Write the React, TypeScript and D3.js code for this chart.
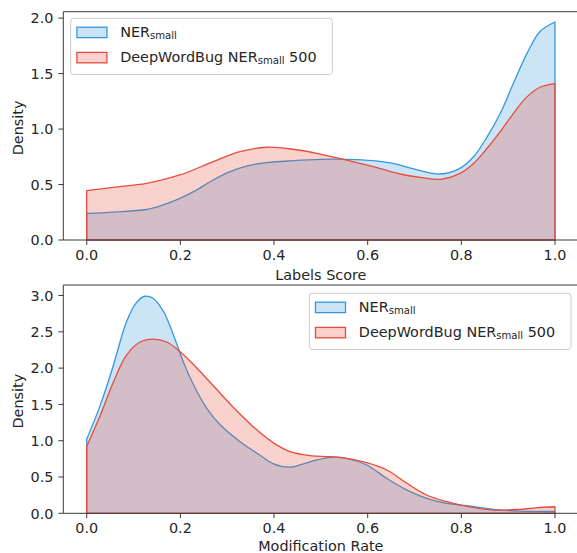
import React from "react";
import * as d3 from "d3";

// ---------- data ----------
const xTicks = [0, 0.2, 0.4, 0.6, 0.8, 1.0];
const topYTicks = [0, 0.5, 1.0, 1.5, 2.0];
const botYTicks = [0, 0.5, 1.0, 1.5, 2.0, 2.5, 3.0];

const seriesNames = ["NER", "DeepWordBug NER"];

// Top panel: Labels Score
const topBlueX = [0, 0.057, 0.128, 0.163, 0.199, 0.234, 0.27, 0.306, 0.341, 0.384, 0.441, 0.498, 0.555, 0.612, 0.654, 0.69, 0.712, 0.755, 0.797, 0.826, 0.855, 0.883, 0.911, 0.94, 0.968, 1.0];
const topBlueY = [0.24, 0.252, 0.275, 0.316, 0.376, 0.45, 0.541, 0.616, 0.667, 0.697, 0.715, 0.727, 0.727, 0.715, 0.69, 0.65, 0.625, 0.595, 0.646, 0.75, 0.93, 1.14, 1.41, 1.68, 1.88, 1.965];
const topRedX = [0, 0.057, 0.128, 0.199, 0.27, 0.327, 0.384, 0.441, 0.498, 0.555, 0.612, 0.669, 0.712, 0.755, 0.797, 0.826, 0.855, 0.883, 0.911, 0.94, 0.968, 1.0];
const topRedY = [0.445, 0.475, 0.51, 0.586, 0.706, 0.796, 0.836, 0.818, 0.775, 0.721, 0.661, 0.595, 0.565, 0.547, 0.6, 0.69, 0.827, 0.977, 1.14, 1.29, 1.377, 1.41];

// Bottom panel: Modification Rate
const botBlueX = [0, 0.029, 0.057, 0.085, 0.107, 0.124, 0.142, 0.164, 0.185, 0.206, 0.228, 0.256, 0.285, 0.327, 0.37, 0.399, 0.434, 0.477, 0.52, 0.555, 0.598, 0.641, 0.684, 0.726, 0.769, 0.812, 0.868, 0.925, 1.0];
const botBlueY = [1.02, 1.49, 2.04, 2.64, 2.91, 2.99, 2.96, 2.78, 2.46, 2.09, 1.77, 1.45, 1.22, 0.99, 0.8, 0.68, 0.635, 0.71, 0.77, 0.757, 0.665, 0.48, 0.32, 0.206, 0.137, 0.105, 0.055, 0.03, 0.025];
const botRedX = [0, 0.029, 0.057, 0.085, 0.114, 0.142, 0.171, 0.199, 0.228, 0.27, 0.313, 0.356, 0.399, 0.434, 0.477, 0.52, 0.555, 0.598, 0.641, 0.684, 0.726, 0.769, 0.812, 0.868, 0.925, 0.96, 1.0];
const botRedY = [0.92, 1.35, 1.81, 2.18, 2.36, 2.4, 2.36, 2.23, 2.05, 1.76, 1.46, 1.19, 0.97, 0.85, 0.795, 0.78, 0.757, 0.697, 0.597, 0.413, 0.252, 0.16, 0.095, 0.045, 0.055, 0.075, 0.09];

// ---------- style ----------
const BLUE = "#3498db";
const RED = "#e74c3c";
const FONT = "DejaVu Sans, sans-serif";
const FS = 14.4;
const TEXT = "#262626";
const SPINE = "#3a3a3a";

const W = 577;
const H = 553;
const axLeft = 63.3;
const axRight = 578.4;

const xScale = d3.scaleLinear().domain([-0.05, 1.05]).range([axLeft, axRight]);

function zip(xs: number[], ys: number[]): [number, number][] {
  return xs.map((x, i) => [x, ys[i]]);
}

function Panel({ top, bottom, yMax, yTicks, blue, red, xlabel, legend, xlabelOffset }: any) {
  const y = d3.scaleLinear().domain([0, yMax]).range([bottom, top]);
  const line = d3
    .line<[number, number]>()
    .x((d) => xScale(d[0]))
    .y((d) => y(d[1]))
    .curve(d3.curveCatmullRom.alpha(0.5));
  const poly = (pts: [number, number][]) => {
    const p = line(pts) as string;
    const x0 = xScale(pts[0][0]);
    const x1 = xScale(pts[pts.length - 1][0]);
    return `M${x0},${y(0)}L` + p.slice(1) + `L${x1},${y(0)}Z`;
  };
  const series = [
    { pts: blue, color: BLUE },
    { pts: red, color: RED },
  ];
  const lg = legend;
  return (
    <g>
      {series.map((s, i) => (
        <g key={i}>
          <path d={poly(s.pts)} fill={s.color} fillOpacity={0.25} stroke="none" />
          <path d={poly(s.pts)} fill="none" stroke={s.color} strokeWidth={1.3} strokeLinejoin="round" />
        </g>
      ))}
      {/* spines */}
      <line x1={axLeft} x2={axLeft} y1={top} y2={bottom} stroke={SPINE} strokeWidth={1} />
      <line x1={axLeft} x2={axRight} y1={top} y2={top} stroke={SPINE} strokeWidth={1} />
      <line x1={axLeft} x2={axRight} y1={bottom} y2={bottom} stroke={SPINE} strokeWidth={1} />
      {/* x ticks */}
      {xTicks.map((t) => (
        <g key={"x" + t}>
          <line x1={xScale(t)} x2={xScale(t)} y1={bottom} y2={bottom + 4.9} stroke={SPINE} strokeWidth={1} />
          <text x={xScale(t)} y={bottom + 19.6} textAnchor="middle" fontFamily={FONT} fontSize={FS} fill={TEXT}>
            {d3.format(".1f")(t)}
          </text>
        </g>
      ))}
      {/* y ticks */}
      {yTicks.map((t: number) => (
        <g key={"y" + t}>
          <line x1={axLeft - 4.9} x2={axLeft} y1={y(t)} y2={y(t)} stroke={SPINE} strokeWidth={1} />
          <text x={axLeft - 9.8} y={y(t) + 5.2} textAnchor="end" fontFamily={FONT} fontSize={FS} fill={TEXT}>
            {d3.format(".1f")(t)}
          </text>
        </g>
      ))}
      <text x={xScale(0.5)} y={bottom + xlabelOffset} textAnchor="middle" fontFamily={FONT} fontSize={FS} fill={TEXT}>
        {xlabel}
      </text>
      <text
        transform={`translate(23.3, ${(top + bottom) / 2 + 2}) rotate(-90)`}
        textAnchor="middle"
        fontFamily={FONT}
        fontSize={FS}
        fill={TEXT}
      >
        Density
      </text>
      {/* legend */}
      <g>
        <rect x={lg.x} y={lg.y} width={261.7} height={56.2} rx={3} ry={3} fill="#fff" fillOpacity={0.8} stroke="#cccccc" strokeWidth={1} />
        {[BLUE, RED].map((c, i) => {
          const cy = lg.y + 14.1 + i * 25.2;
          return (
            <g key={c}>
              <rect x={lg.x + 6.2} y={cy - 5.2} width={30} height={10.4} fill={c} fillOpacity={0.25} stroke={c} strokeWidth={1.3} />
              <text x={lg.x + 49.5} y={cy + 4.7} fontFamily={FONT} fontSize={FS} fill={TEXT}>
                {seriesNames[i]}
                <tspan fontSize={FS * 0.7} dy={2}>small</tspan>
                {i === 1 ? <tspan dy={-2}> 500</tspan> : null}
              </text>
            </g>
          );
        })}
      </g>
    </g>
  );
}

export default function App() {
  return (
    <div style={{ position: "absolute", left: 0, top: 0 }}>
      <svg width={W} height={H} viewBox={`0 0 ${W} ${H}`} style={{ display: "block", background: "#fff" }}>
        <rect x={0} y={0} width={W} height={H} fill="#fff" />
        <Panel
          top={11.7}
          bottom={240}
          yMax={2.058}
          yTicks={topYTicks}
          blue={zip(topBlueX, topBlueY)}
          red={zip(topRedX, topRedY)}
          xlabel="Labels Score"
          xlabelOffset={40.3}
          legend={{ x: 70.7, y: 18.3 }}
        />
        <Panel
          top={285}
          bottom={513.3}
          yMax={3.145}
          yTicks={botYTicks}
          blue={zip(botBlueX, botBlueY)}
          red={zip(botRedX, botRedY)}
          xlabel="Modification Rate"
          xlabelOffset={37.3}
          legend={{ x: 309.3, y: 293.3 }}
        />
      </svg>
    </div>
  );
}
